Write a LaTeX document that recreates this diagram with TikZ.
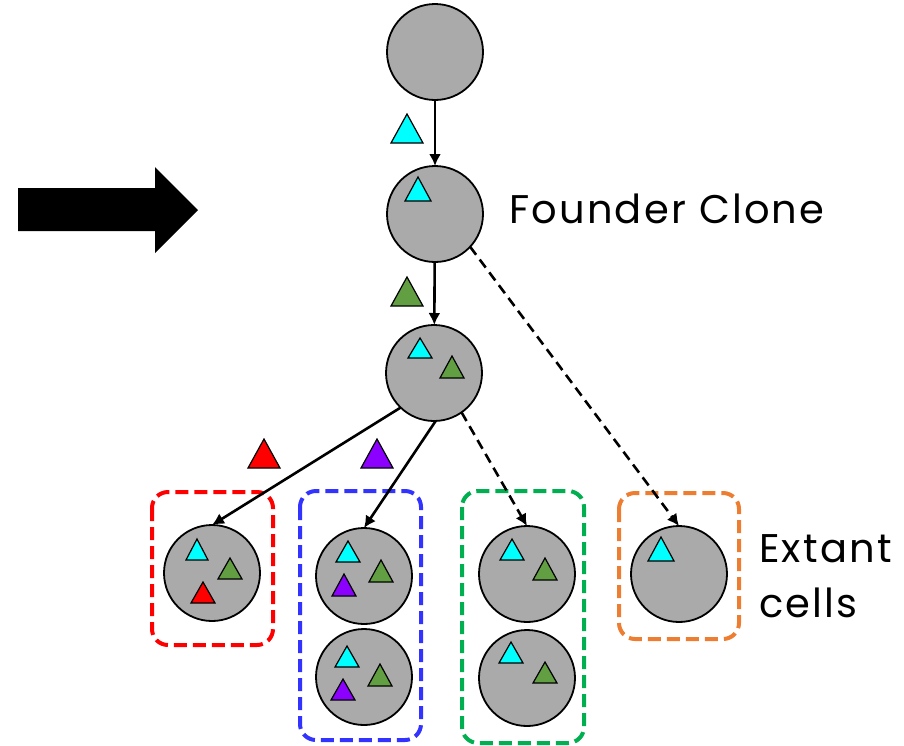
\documentclass[tikz,border=0pt]{standalone}
\usepackage{fontspec}
\setmainfont{Poppins}
\newfontfamily\labelfont{Poppins}[LetterSpace=5.5]
\usetikzlibrary{arrows.meta}

\definecolor{cellgray}{RGB}{170,170,170}
\definecolor{mcyan}{RGB}{0,255,255}
\definecolor{mgreen}{RGB}{98,158,66}
\definecolor{mred}{RGB}{255,0,0}
\definecolor{mpurple}{RGB}{140,0,255}
\definecolor{bred}{RGB}{255,0,0}
\definecolor{bblue}{RGB}{51,51,255}
\definecolor{bgreen}{RGB}{0,176,80}
\definecolor{borange}{RGB}{237,125,49}

% mutation marker: colour, centre x, apex y, base y, half width
\newcommand\mutmark[5]{%
  \filldraw[fill=#1, draw=black, line width=1.2pt, line join=miter]
    (#2,#3) -- (#2+#5,#4) -- (#2-#5,#4) -- cycle;}

\tikzset{
  cell/.style={circle, draw=black, fill=cellgray, line width=1.8pt,
    minimum size=96pt, inner sep=0pt, outer sep=0pt},
  edge/.style={line width=2.6pt, -{Latex[length=12pt,width=12pt]}},
  dashedge/.style={edge, dash pattern=on 10pt off 6pt},
  clonebox/.style={line width=4pt, rounded corners=16pt, dash pattern=on 13pt off 6pt},
  label/.style={font=\labelfont\fontsize{40}{55}\selectfont, anchor=base west, inner sep=0pt}
}

\begin{document}
\begin{tikzpicture}[x=1pt, y=-1pt]
\path[use as bounding box] (0,0) rectangle (904,745);

% dashed boxes around groups of extant cells
\draw[clonebox, bred]    (152,492) rectangle (273,645);
\draw[clonebox, bblue]   (300,491) rectangle (421,740);
\draw[clonebox, bgreen]  (462,491) rectangle (584,743);
\draw[clonebox, borange] (619,493) rectangle (739,639);

% lineage cells
\node[cell] (c1) at (435,52) {};
\node[cell] (c2) at (435,214) {};
\node[cell] (c3) at (434,373) {};

% extant cells
\node[cell] (r1) at (212,573) {};
\node[cell] (b1) at (364,576) {};
\node[cell] (b2) at (364,677) {};
\node[cell] (g1) at (527,574) {};
\node[cell] (g2) at (527,678) {};
\node[cell] (o1) at (679,574) {};

% connectors
\draw[edge] (c1) -- (c2);
\draw[edge] (c2) -- (c3);
\draw[dashedge] (c2.-43) -- (o1.north);
\draw[edge] (c3.226) -- (r1.north);
\draw[edge] (c3.-88) -- (b1.north);
\draw[dashedge] (c3.-55) -- (g1.north);

% mutations on edges
\mutmark{mcyan}{407}{114}{143}{16}
\mutmark{mgreen}{407}{277}{306}{16}
\mutmark{mred}{264}{439}{468}{16}
\mutmark{mpurple}{377}{439}{468}{16}

% mutations carried by cells
\mutmark{mcyan}{418}{177}{201}{13}
\mutmark{mcyan}{420}{338}{358}{12}
\mutmark{mgreen}{452}{356}{378}{12}

\mutmark{mcyan}{197}{539}{560}{11}
\mutmark{mgreen}{230}{558}{579}{12}
\mutmark{mred}{203}{582}{603}{12}

\mutmark{mcyan}{348}{541}{562}{12}
\mutmark{mgreen}{381}{560}{582}{12}
\mutmark{mpurple}{344}{574}{596}{12}

\mutmark{mcyan}{347}{646}{667}{12}
\mutmark{mgreen}{380}{664}{686}{12}
\mutmark{mpurple}{343}{679}{700}{12}

\mutmark{mcyan}{512}{539}{560}{12}
\mutmark{mgreen}{545}{558}{580}{12}

\mutmark{mcyan}{511}{642}{663}{12}
\mutmark{mgreen}{545}{662}{683}{12}

\mutmark{mcyan}{661}{537}{561}{13}

% big pointer arrow
\fill[black] (18,188) -- (155,188) -- (155,167) -- (198,210) -- (155,253)
  -- (155,231) -- (18,231) -- cycle;

% labels
\node[label] (founder) at (509,223) {Founder Clone};
\node[label] (extant) at (759,562)
  {\begin{tabular}[t]{@{}l@{}}Extant\\cells\end{tabular}};
\end{tikzpicture}
\end{document}
